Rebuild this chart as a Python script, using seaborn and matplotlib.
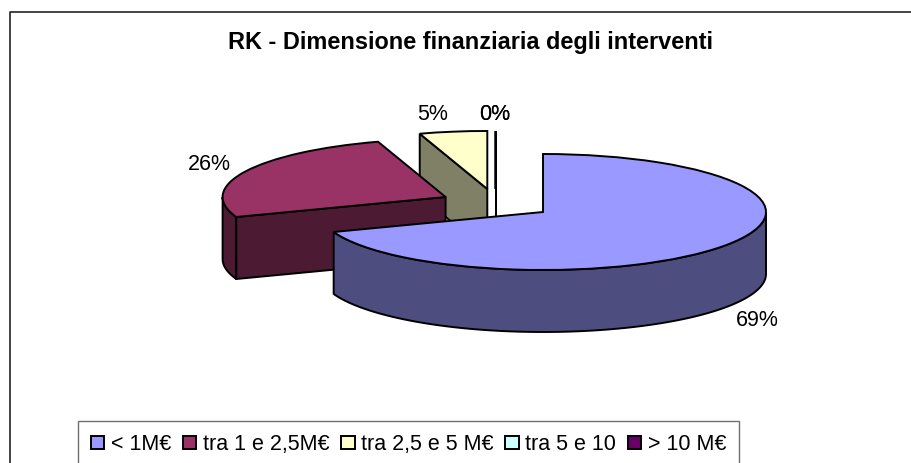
import numpy as np
import matplotlib
matplotlib.use("Agg")
import matplotlib.pyplot as plt
from matplotlib.patches import Patch, Polygon
from matplotlib.transforms import Affine2D
from matplotlib.colors import to_rgb
import seaborn as sns

title = "RK - Dimensione finanziaria degli interventi"
categories = ["< 1M€", "tra 1 e 2,5M€", "tra 2,5 e 5 M€", "tra 5 e 10", "> 10 M€"]
shares = [69.4, 25.7, 4.9, 0, 0]
colors = ["#9999FF", "#993366", "#FFFFCC", "#CCFFFF", "#660066"]

sns.set_theme(style="white")
plt.rcParams["font.family"] = ["Liberation Sans", "DejaVu Sans"]

W, H = 911, 463
fig = plt.figure(figsize=(W / 100, H / 100), dpi=100, facecolor="white")
ax = fig.add_axes([0, 0, 1, 1])
palette = sns.color_palette(colors)

RX, RY, DEPTH = 223, 58, 62
LW = 1.4
# where each slice's apex lands once the pie is pulled apart (pixel layout)
apex = [(543, 212), (445.6, 197), (487.3, 189), (495.5, 189), (495.5, 189)]
label_pos = [(757, 320), (209, 165), (433, 115), (495, 115), (495, 115)]

wedges, _ = ax.pie(shares, colors=palette, startangle=90, counterclock=False,
                   radius=1, frame=True,
                   wedgeprops=dict(edgecolor="black", linewidth=LW))
ax.set_aspect("auto")
ax.set_xlim(0, W)
ax.set_ylim(H, 0)
ax.set_axis_off()


def point(center, deg, drop=0):
    t = np.radians(deg)
    return center[0] + RX * np.sin(t), center[1] - RY * np.cos(t) + drop


edges = np.cumsum([0] + shares) * 3.6
for i, (wedge, share, col) in enumerate(zip(wedges, shares, palette)):
    c = apex[i]
    a0, a1 = edges[i], edges[i + 1]
    z = 10 + 10 * (len(shares) - i)
    dark = tuple(0.5 * v for v in to_rgb(col))
    # outer wall: only the arc part that faces the viewer
    lo, hi = max(a0, 90), min(a1, 270)
    if hi > lo:
        arc = np.linspace(lo, hi, 120)
        top = [point(c, a) for a in arc]
        bottom = [point(c, a, DEPTH) for a in arc[::-1]]
        ax.add_patch(Polygon(top + bottom, closed=True, facecolor=dark,
                             edgecolor="black", linewidth=LW, zorder=z))
    # cut faces that face the viewer
    faces = []
    if a0 > 0 and np.sin(np.radians(a0)) < 1e-9:
        faces.append(a0)
    if 0 < a1 < 180:
        faces.append(a1)
    for a in faces:
        p = point(c, a)
        ax.add_patch(Polygon([p, c, (c[0], c[1] + DEPTH), (p[0], p[1] + DEPTH)],
                             closed=True, facecolor=dark, edgecolor="black",
                             linewidth=LW, zorder=z + 1))
    wedge.set_transform(Affine2D().scale(RX, -RY).translate(*c) + ax.transData)
    wedge.set_zorder(z + 2)
    wedge.set_clip_on(False)
    ax.text(*label_pos[i], f"{share:.0f}%", ha="center", va="center",
            fontsize=15.5, color="black", zorder=100)

ax.text(470.5, 43, title, ha="center", va="center", fontsize=16.9,
        fontweight="bold", color="black", zorder=100)

# chart frame, running off the picture on the right and at the bottom
ax.plot([9.5, 9.5, W + 5], [H + 5, 11.5, 11.5], color="#222222", lw=1.2,
        clip_on=False, zorder=1)

handles = [Patch(facecolor=col, edgecolor="black", linewidth=LW) for col in palette]
leg = ax.legend(handles, categories, ncol=5, loc="lower left",
                bbox_to_anchor=(78, 468), bbox_transform=ax.transData,
                borderaxespad=0, frameon=True, fancybox=False, framealpha=1,
                edgecolor="#707070", facecolor="white", fontsize=15.5,
                handlelength=0.62, handleheight=0.62, handletextpad=0.3,
                columnspacing=0.55, borderpad=0.6, labelcolor="black")
leg.get_frame().set_linewidth(1.0)
leg.set_zorder(50)

fig.savefig("out.png", dpi=100, facecolor="white")
